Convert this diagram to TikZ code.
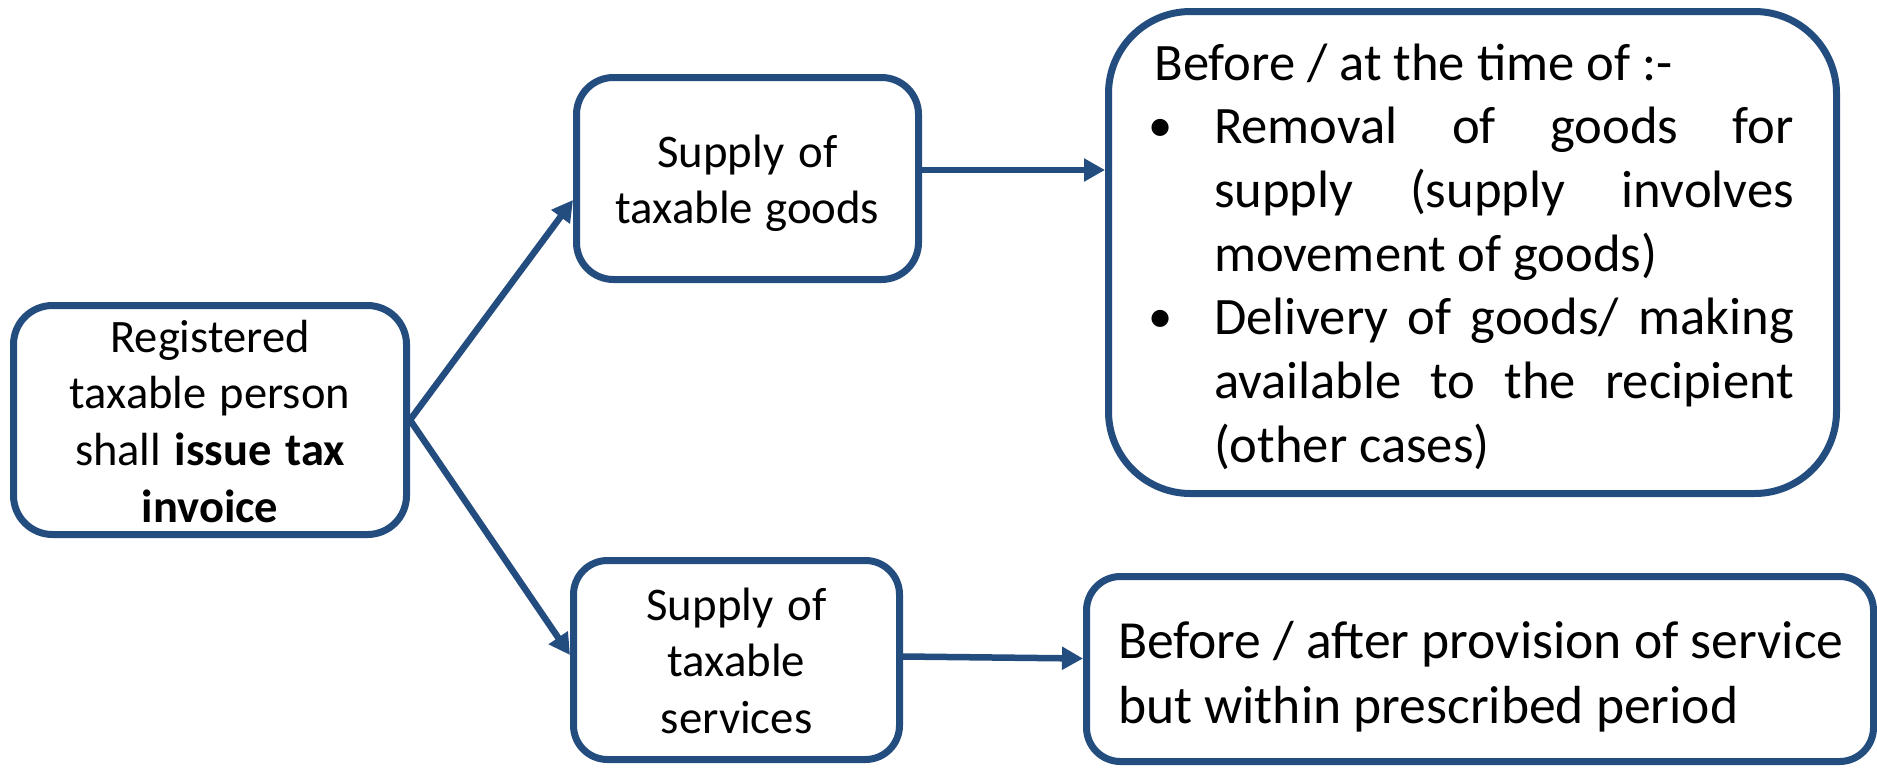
\documentclass[tikz,border=0pt]{standalone}
\usepackage{fontspec}
\setmainfont{Carlito}
\usetikzlibrary{arrows.meta}
\definecolor{frame}{RGB}{35,76,127}

% use the font's own interword space inside nodes
\newcommand\plainsp{\spaceskip=0pt\xspaceskip=0pt\hfuzz=30pt\relax}
% bullet column and a line stretched to the full measure
\newcommand\itemmark{\makebox[59.5pt][l]{\hspace*{-6pt}\raisebox{2pt}{\scalebox{0.92}{\textbullet}}}}
\newcommand\hangcol{\hspace*{59.5pt}}
\newcommand\spreadline[1]{\makebox[580pt][s]{#1}}

\begin{document}
\begin{tikzpicture}[x=1pt,y=-1pt,
  box/.style={draw=frame, line width=7pt, fill=white, inner sep=0pt,
    outer sep=3.5pt, align=center, text height=0pt,
    execute at begin node=\plainsp},
  small/.style={font=\fontsize{46.8pt}{56.8pt}\selectfont},
  link/.style={draw=frame, line width=6.5pt,
    -{Triangle[length=21pt,width=22pt]}}]
\useasboundingbox (0,0) rectangle (1877,769);

% boxes
\node[box, font=\fontsize{46.5pt}{56.7pt}\selectfont,
  minimum width=393pt, minimum height=229pt,
  rounded corners=39pt, text width=380pt, text depth=136pt]
  (reg) at (210,420)
  {Registered\\taxable person\\shall \textbf{issue tax}\\\textbf{invoice}};

\node[box, small, minimum width=342pt, minimum height=202pt,
  rounded corners=37pt, text width=320pt, text depth=23pt]
  (goods) at (747.5,178.5) {Supply of\\taxable goods};

\node[box, small, minimum width=326pt, minimum height=199pt,
  rounded corners=34pt, text width=300pt, text depth=80pt]
  (serv) at (736.5,660) {Supply of\\taxable\\services};

\node[box, minimum width=728pt, minimum height=482pt,
  rounded corners=82pt, text width=636pt, align=left, text depth=345pt,
  font=\fontsize{52.6pt}{63.7pt}\selectfont]
  (big) at (1472.5,252.5)
  {Before / at the time of :-\\
   \itemmark\spreadline{Removal of goods for}\\
   \hangcol\spreadline{supply (supply involves}\\
   \hangcol movement of goods)\\
   \itemmark\spreadline{Delivery of goods/ making}\\
   \hangcol\spreadline{available to the recipient}\\
   \hangcol(other cases)};

\node[box, minimum width=787pt, minimum height=185pt,
  rounded corners=34pt, text width=724pt, align=left, text depth=22pt,
  font=\fontsize{53.6pt}{65pt}\selectfont]
  (rec) at (1480,669)
  {\mbox{Before / after provision of service}\\
   \mbox{but within prescribed period}};

% connectors
\draw[link] (reg.east) -- ([yshift=-21.5pt]goods.west);
\draw[link] (reg.east) -- ([yshift=5pt]serv.west);
\draw[link] ([yshift=8.5pt]goods.east) -- ([yshift=8.5pt]goods.east -| big.west);
\draw[link] ([yshift=3.5pt]serv.east) -- ([yshift=10.5pt]rec.west);
\end{tikzpicture}
\end{document}
